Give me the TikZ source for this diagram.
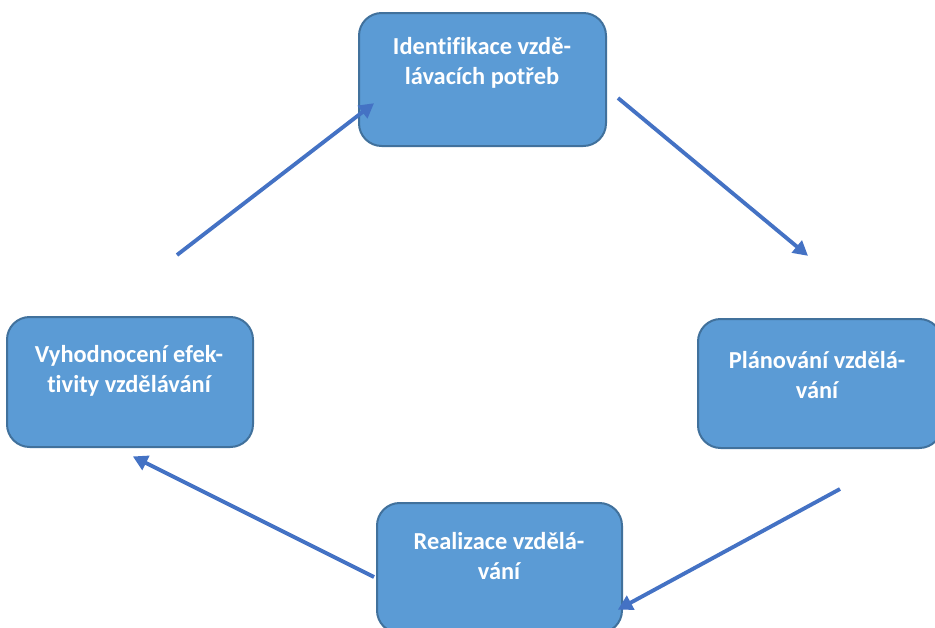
\documentclass[tikz,border=0pt]{standalone}
\usepackage{fontspec}
\setmainfont{Carlito}[RawFeature={-liga;-clig;-dlig;-calt}]
\usetikzlibrary{arrows.meta}
\definecolor{boxfill}{HTML}{5B9BD5}
\definecolor{boxline}{HTML}{41719C}
\definecolor{arrowc}{HTML}{4472C4}
\tikzset{
  stagebox/.style={draw=boxline, fill=boxfill, line width=1.5pt, rounded corners=17pt, inner sep=0pt},
  stagetext/.style={text=white, font=\bfseries\fontsize{18.3}{22.5}\selectfont, align=center, inner sep=0pt},
  flow/.style={draw=arrowc, line width=2.9pt, -{Triangle[length=11pt,width=11.5pt]}, shorten >=-1pt}
}
\begin{document}
\begin{tikzpicture}[x=0.75pt,y=-0.75pt]
\useasboundingbox (0,0) rectangle (935,628);
\clip (0,0) rectangle (935,628);
% boxes
\node[stagebox, minimum width=247*0.75pt, minimum height=133*0.75pt] (ident) at (482.5,79.5) {};
\node[stagebox, minimum width=244*0.75pt, minimum height=129*0.75pt] (plan) at (820,383.5) {};
\node[stagebox, minimum width=245*0.75pt, minimum height=130*0.75pt] (real) at (499.5,568) {};
\node[stagebox, minimum width=246*0.75pt, minimum height=130*0.75pt] (eval) at (130,382) {};
% texts
\node[stagetext] (identT) at (482,63) {Iden\kern0pt tifikace vzdě-\\lávacích potřeb};
\node[stagetext] (planT) at (817,375) {Plánování vzdělá-\\vání};
\node[stagetext] (realT) at (499,556.5) {Realizace vzdělá-\\vání};
\node[stagetext] (evalT) at (129,371) {Vyhodnocení efek-\\t\kern0pt ivity vzdělávání};
% arrow ends
\coordinate (a1s) at (618,98);  \coordinate (a1e) at (807,255);
\coordinate (a2s) at (840,489); \coordinate (a2e) at (619,609);
\coordinate (a3s) at (374,577); \coordinate (a3e) at (134,457);
\coordinate (a4s) at (177,255); \coordinate (a4e) at (373,104);
\draw[flow] (a1s) -- (a1e);
\draw[flow] (a2s) -- (a2e);
\draw[flow] (a3s) -- (a3e);
\draw[flow] (a4s) -- (a4e);
\end{tikzpicture}
\end{document}
